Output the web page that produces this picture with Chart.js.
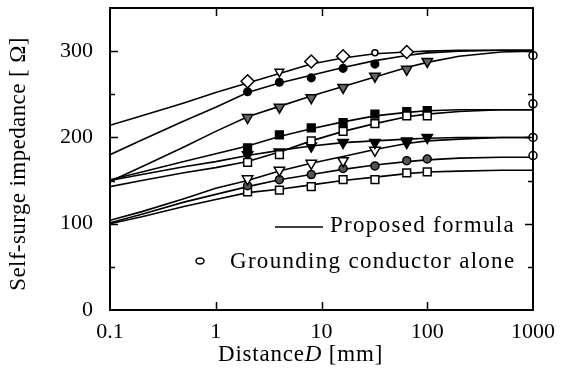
<!DOCTYPE html>
<html><head><meta charset="utf-8">
<script src="https://cdn.jsdelivr.net/npm/chart.js@4"></script>
<style>html,body{margin:0;padding:0;background:#fff}#wrap{width:567px;height:381px;position:relative}</style>
</head><body><div id="wrap"><canvas id="c"></canvas></div>
<script>
// ---- data ----
const lineD = [0.1, 0.2, 0.5, 1, 2, 4, 8, 16, 32, 64, 100, 200, 500, 1000];
const formulaA = [214, 225, 240, 252, 263, 274, 285, 292, 297, 299, 300, 301, 301, 301];
const formulaB = [180, 197, 219, 235, 252, 263, 272, 281, 289, 295, 298, 300, 301, 301];
const formulaC = [149, 166, 189, 207, 224, 236, 248, 259, 270, 281, 287, 294, 299, 300];
const formulaD = [151, 160, 172, 181, 190, 201, 210, 218, 225, 229, 231, 232, 232, 232];
const formulaE = [143, 150, 159, 165, 172, 183, 196, 207, 216, 224, 227, 230, 232, 232];
const formulaF = [150, 157, 166, 172, 179, 185, 190, 194, 196, 198, 199, 200, 200, 200];
const formulaG = [104, 114, 129, 141, 150, 161, 170, 178, 186, 193, 196, 198, 200, 200];
const formulaH = [101, 111, 125, 134, 143, 151, 157, 163, 168, 172, 174, 176, 177, 177];
const formulaI = [100, 108, 120, 128, 136, 140, 145, 150, 154, 158, 160, 161, 162, 162];

const measD = [2, 4, 8, 16, 32, 64, 100];
const measA = [265, 276, 288, 294, 298, 299];
const measB = [253, 264, 269, 280, 285];
const measC = [223, 235, 246, 258, 271, 279, 288];
const measDsq = [188, 203, 211, 217, 227, 230, 231];
const measE = [171, 180, 196, 207, 216, 225, 225];
const measF = [180, 183, 190, 194, 194, 196, 200];
const measG = [152, 162, 170, 173, 185, 194];
const measH = [144, 151, 157, 164, 167, 173, 175];
const measI = [137, 139, 143, 151, 151, 159, 160];

const aloneD = [1000, 1000, 1000, 1000];
const aloneZ = [295, 239, 200, 179];

const xTicks = [0.1, 1, 10, 100, 1000];
const xTickLabels = ['0.1', '1', '10', '100', '1000'];
const yMin = 0, yMax = 350, yStep = 50;
const legendLabels = ['Proposed formula', 'Grounding conductor alone'];
const yTitle = 'Self-surge impedance [ \u03A9]';
const xTitleParts = ['Distance', 'D', ' [mm]'];

// ---- build datasets ----
const SERIF = '"Liberation Serif", "Times New Roman", serif';
const pts = (xs, ys) => ys.map((v, i) => ({x: xs[i], y: v}));

const lineSets = [formulaA, formulaB, formulaC, formulaD, formulaE, formulaF, formulaG, formulaH, formulaI]
  .map(arr => ({
    data: pts(lineD, arr), showLine: true, borderColor: '#000', borderWidth: 1.6,
    pointRadius: 0, tension: 0, order: 5, fill: false
  }));

function marks(ys, style, opts) {
  return Object.assign({
    data: pts(measD, ys), showLine: false, pointStyle: style,
    pointBorderColor: '#000', pointBorderWidth: 1.5, order: 1, clip: false
  }, opts);
}

const markSets = [
  marks(measA, ['rectRot', 'triangle', 'rectRot', 'rectRot', 'circle', 'rectRot'], {
    pointRadius: [6.5, 5, 6.5, 6.5, 3, 6.5], pointRotation: [0, 180, 0, 0, 0, 0], pointBackgroundColor: '#fff'}),
  marks(measB, 'circle', {pointRadius: 3.8, pointBackgroundColor: '#000'}),
  marks(measC, 'triangle', {pointRadius: 6, pointRotation: 180, pointBackgroundColor: '#666'}),
  marks(measE, 'rect', {pointRadius: 5.5, pointBackgroundColor: '#fff'}),
  marks(measDsq, 'rect', {pointRadius: 5.5, pointBackgroundColor: '#000'}),
  marks(measF, 'triangle', {pointRadius: 6, pointRotation: 180, pointBackgroundColor: '#000'}),
  marks(measG, 'triangle', {pointRadius: 6, pointRotation: 180, pointBackgroundColor: '#fff'}),
  marks(measH, 'circle', {pointRadius: 4, pointBackgroundColor: '#555'}),
  marks(measI, 'rect', {pointRadius: 5.5, pointBackgroundColor: '#fff'}),
  {
    data: pts(aloneD, aloneZ), showLine: false, pointStyle: 'circle', pointRadius: 4,
    pointBackgroundColor: '#fff', pointBorderColor: '#000', pointBorderWidth: 1.5, order: 0, clip: false
  }
];

// ---- frame, inward ticks, legend, titles ----
const decor = {
  id: 'decor',
  afterDatasetsDraw(chart) {
    const {ctx, chartArea: a, scales: {x, y}} = chart;
    ctx.save();
    ctx.strokeStyle = '#000';
    ctx.lineWidth = 2;
    ctx.strokeRect(a.left, a.top, a.right - a.left, a.bottom - a.top);
    ctx.lineWidth = 1.5;
    ctx.beginPath();
    xTicks.slice(1, -1).forEach(v => {
      const px = Math.round(x.getPixelForValue(v)) + 0.5;
      ctx.moveTo(px, a.bottom); ctx.lineTo(px, a.bottom - 8);
      ctx.moveTo(px, a.top); ctx.lineTo(px, a.top + 8);
    });
    for (let v = yMin + yStep; v < yMax; v += yStep) {
      const py = Math.round(y.getPixelForValue(v)) + 0.5;
      const len = v % 100 === 0 ? 8 : 5;
      ctx.moveTo(a.left, py); ctx.lineTo(a.left + len, py);
      ctx.moveTo(a.right, py); ctx.lineTo(a.right - len, py);
    }
    ctx.stroke();
    ctx.restore();
  },
  afterDraw(chart) {
    const {ctx} = chart;
    ctx.save();
    ctx.fillStyle = '#000';
    ctx.strokeStyle = '#000';
    // legend
    ctx.lineWidth = 1.5;
    ctx.beginPath(); ctx.moveTo(275, 227); ctx.lineTo(323, 227); ctx.stroke();
    ctx.beginPath(); ctx.ellipse(200, 261, 4, 3, 0, 0, Math.PI * 2); ctx.stroke();
    ctx.font = '23px ' + SERIF;
    ctx.textBaseline = 'middle';
    ctx.textAlign = 'left';
    ctx.letterSpacing = '1.3px';
    ctx.fillText(legendLabels[0], 330, 226);
    ctx.fillText(legendLabels[1], 230, 262);
    // y title
    ctx.letterSpacing = '0.4px';
    ctx.save();
    ctx.translate(19, 164);
    ctx.rotate(-Math.PI / 2);
    ctx.textAlign = 'center';
    ctx.fillText(yTitle, 0, 0);
    ctx.restore();
    // x title
    ctx.letterSpacing = '0.8px';
    let xx = 218;
    const fonts = ['23px ' + SERIF, 'italic 23px ' + SERIF, '23px ' + SERIF];
    xTitleParts.forEach((s, i) => {
      ctx.font = fonts[i];
      ctx.fillText(s, xx, 355);
      xx += ctx.measureText(s).width;
    });
    ctx.restore();
  }
};

new Chart(document.getElementById('c'), {
  type: 'scatter',
  data: {datasets: [...markSets, ...lineSets]},
  options: {
    responsive: true, maintainAspectRatio: false, animation: false,
    layout: {padding: {top: 8, right: 34, left: 0, bottom: 0}},
    plugins: {legend: {display: false}, tooltip: {enabled: false}},
    scales: {
      x: {
        type: 'logarithmic', min: 0.1, max: 1000,
        grid: {display: false, drawTicks: false}, border: {display: false},
        afterBuildTicks: s => { s.ticks = xTicks.map(v => ({value: v})); },
        afterFit: s => { s.height = 71; s.paddingLeft = 0; s.paddingRight = 0; },
        ticks: {
          autoSkip: false, maxRotation: 0, padding: 9, color: '#000',
          font: {family: SERIF, size: 22},
          callback: (v) => { const i = xTicks.indexOf(v); return i >= 0 ? xTickLabels[i] : ''; }
        }
      },
      y: {
        min: yMin, max: yMax,
        grid: {display: false, drawTicks: false}, border: {display: false},
        afterFit: s => { s.width = 110; s.paddingTop = 0; s.paddingBottom = 0; },
        ticks: {
          stepSize: yStep, padding: 17, color: '#000',
          font: {family: SERIF, size: 22},
          callback: v => (v % 100 === 0 ? String(v) : '')
        }
      }
    }
  },
  plugins: [decor]
});
</script></body></html>
